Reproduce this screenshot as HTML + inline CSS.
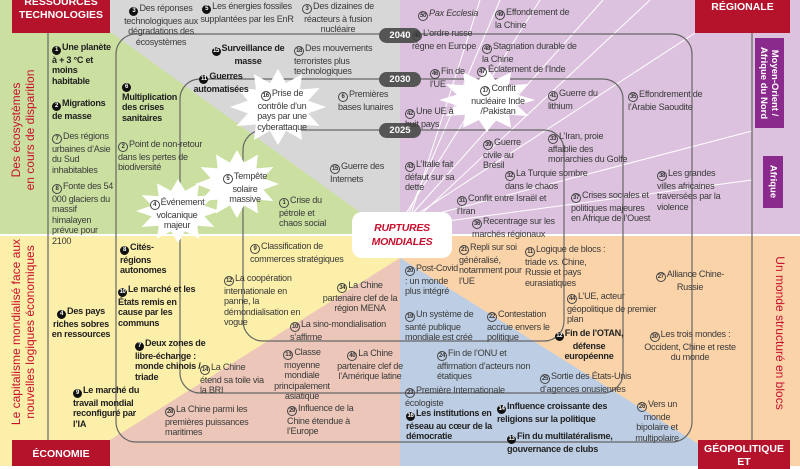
<!DOCTYPE html>
<html><head><meta charset="utf-8">
<style>
body{margin:0;width:800px;height:466px;overflow:hidden;position:relative;font-family:"Liberation Sans",sans-serif;background:#fff}
.t{position:absolute;font-size:9.1px;line-height:10.4px;color:#3a3a3a;letter-spacing:-0.25px}
.c{text-align:center}
.bd{font-weight:bold;color:#222}
.n,.b{display:inline-block;width:9px;height:9px;border-radius:50%;font-size:6px;line-height:9px;text-align:center;vertical-align:-1px;margin-right:1px;font-weight:bold;letter-spacing:-0.3px}
.n{border:0.8px solid #444;width:8px;height:8px;line-height:8px;color:#333}
.b{background:#111;color:#fff}
.red{position:absolute;background:#b5122b;color:#fff;font-weight:bold;font-size:10.5px;text-align:center;line-height:13px}
.vt{position:absolute;color:#c8102e;font-size:12px;line-height:14px;text-align:center;white-space:nowrap;transform:rotate(-90deg);transform-origin:center}
.pb{position:absolute;background:#8b2a8d;color:#fff;font-weight:bold;font-size:9.5px;line-height:11px}
.pill{position:absolute;left:379px;width:42px;height:15px;border-radius:8px;background:#555;color:#fff;font-weight:bold;font-size:9.5px;line-height:15px;text-align:center}
</style></head><body>
<svg width="800" height="466" style="position:absolute;left:0;top:0">
<defs><polygon id="star" points="1,0 .628,.168 .866,.5 .46,.46 .5,.866 .168,.628 0,1 -.168,.628 -.5,.866 -.46,.46 -.866,.5 -.628,.168 -1,0 -.628,-.168 -.866,-.5 -.46,-.46 -.5,-.866 -.168,-.628 0,-1 .168,-.628 .5,-.866 .46,-.46 .866,-.5 .628,-.168" fill="#fff"/></defs>
<rect x="0" y="0" width="400" height="234" fill="#cbe0a0"/>
<polygon points="110,0 400,0 400,234 390,234 112,33 110,33" fill="#d7d7d7"/>
<rect x="400" y="0" width="400" height="234" fill="#dcc2de"/>
<rect x="0" y="236" width="400" height="230" fill="#fcefa9"/>
<polygon points="400,258 400,466 110,466 110,440" fill="#ecc6b8"/>
<rect x="400" y="236" width="400" height="230" fill="#fbd3a9"/>
<polygon points="400,258 734,466 400,466" fill="#bdcee4"/>
<g stroke="#fff" stroke-width="1">
<line x1="405" y1="222" x2="500" y2="0"/><line x1="405" y1="222" x2="603" y2="0"/>
<line x1="405" y1="222" x2="695" y2="33"/><line x1="405" y1="222" x2="752" y2="131"/>
<line x1="440" y1="222" x2="752" y2="180"/><line x1="405" y1="215" x2="540" y2="0"/>
<line x1="410" y1="218" x2="480" y2="0"/><line x1="415" y1="220" x2="650" y2="0"/>
</g>
<g fill="none" stroke="#666" stroke-width="1.2">
<rect x="116" y="34" width="576" height="408" rx="20"/>
<rect x="180" y="79" width="443" height="314" rx="20"/>
<rect x="243" y="130" width="321" height="211" rx="20"/>
<line x1="48" y1="33" x2="48" y2="440"/><line x1="752" y1="33" x2="752" y2="440"/>
</g>
<use href="#star" transform="translate(278,107) scale(48,38)"/>
<use href="#star" transform="translate(237,184) scale(42,34)"/>
<use href="#star" transform="translate(178,211) scale(42,32)"/>
<use href="#star" transform="translate(487,100) scale(48,32)"/>
<rect x="352" y="212" width="100" height="46" rx="10" fill="#fff"/>
</svg>
<div class="pill" style="top:28px">2040</div>
<div class="pill" style="top:72px">2030</div>
<div class="pill" style="top:123px">2025</div>
<div class="t c bd" style="left:352px;top:221px;width:100px;color:#c8102e;font-style:italic;font-size:10.5px;line-height:14px">RUPTURES<br>MONDIALES</div>

<div class="red" style="left:12px;top:0;width:98px;height:33px"><div style="margin-top:-4px">RESSOURCES<br>TECHNOLOGIES</div></div>
<div class="red" style="left:695px;top:0;width:95px;height:33px;line-height:14px">RÉGIONALE</div>
<div class="red" style="left:12px;top:440px;width:98px;height:26px;line-height:28px">ÉCONOMIE</div>
<div class="red" style="left:698px;top:440px;width:92px;height:26px;padding-top:3px">GÉOPOLITIQUE<br>ET</div>
<div class="pb" style="left:755px;top:38px;width:29px;height:90px"><div style="position:absolute;left:-31px;top:34px;width:90px;transform:rotate(90deg);text-align:center">Moyen-Orient /<br>Afrique du Nord</div></div>
<div class="pb" style="left:763px;top:156px;width:20px;height:52px"><div style="position:absolute;left:-16px;top:20px;width:52px;transform:rotate(90deg);text-align:center">Afrique</div></div>
<div class="vt" style="left:-87px;top:116px;width:220px">Des écosystèmes<br>en cours de disparition</div>
<div class="vt" style="left:-112px;top:318px;width:270px">Le capitalisme mondialisé face aux<br>nouvelles logiques économiques</div>
<div class="vt" style="left:692px;top:326px;width:176px;transform:rotate(90deg)">Un monde structuré en blocs</div>

<!-- top-left -->
<div class="t c" style="left:118px;top:3px;width:86px"><span class="b">3</span>Des réponses technologiques aux dégradations des écosystèmes</div>
<div class="t c" style="left:198px;top:1px;width:98px"><span class="b">5</span>Les énergies fossiles supplantées par les EnR</div>
<div class="t c" style="left:297px;top:1px;width:82px"><span class="n">3</span>Des dizaines de réacteurs à fusion nucléaire</div>
<div class="t bd" style="left:52px;top:42px;width:64px"><span class="b">1</span>Une planète à + 3 °C et moins habitable</div>
<div class="t bd" style="left:52px;top:98px;width:62px"><span class="b">2</span>Migrations de masse</div>
<div class="t" style="left:52px;top:131px;width:62px"><span class="n">7</span>Des régions urbaines d’Asie du Sud inhabitables</div>
<div class="t" style="left:52px;top:181px;width:64px"><span class="n">8</span>Fonte des 54 000 glaciers du massif himalayen prévue pour 2100</div>
<div class="t bd" style="left:122px;top:79px;width:54px"><span class="b">6</span>Multiplication des crises sanitaires</div>
<div class="t" style="left:118px;top:139px;width:100px"><span class="n">2</span>Point de non-retour dans les pertes de biodiversité</div>
<div class="t c bd" style="left:208px;top:43px;width:80px"><span class="b">15</span>Surveillance de masse</div>
<div class="t" style="left:294px;top:43px;width:92px"><span class="n">18</span>Des mouvements terroristes plus technologiques</div>
<div class="t c bd" style="left:188px;top:71px;width:66px"><span class="b">11</span>Guerres automatisées</div>
<div class="t c" style="left:250px;top:88px;width:64px"><span class="n">16</span>Prise de contrôle d’un pays par une cyberattaque</div>
<div class="t" style="left:338px;top:89px;width:62px"><span class="n">6</span>Premières bases lunaires</div>
<div class="t" style="left:330px;top:161px;width:62px"><span class="n">15</span>Guerre des Internets</div>
<div class="t c" style="left:218px;top:171px;width:54px"><span class="n">5</span>Tempête solaire massive</div>
<div class="t c" style="left:143px;top:197px;width:68px"><span class="n">4</span>Événement volcanique majeur</div>
<div class="t" style="left:279px;top:195px;width:58px"><span class="n">1</span>Crise du pétrole et chaos social</div>

<!-- top-right -->
<div class="t" style="left:418px;top:8px;font-style:italic"><span class="n">50</span>Pax Ecclesia</div>
<div class="t" style="left:495px;top:7px;width:82px"><span class="n">49</span>Effondrement de la Chine</div>
<div class="t" style="left:412px;top:28px;width:70px"><span class="n">45</span>L’ordre russe règne en Europe</div>
<div class="t" style="left:482px;top:41px;width:98px"><span class="n">48</span>Stagnation durable de la Chine</div>
<div class="t" style="left:477px;top:64px;width:115px"><span class="n">47</span>Éclatement de l’Inde</div>
<div class="t" style="left:430px;top:66px;width:42px"><span class="n">46</span>Fin de l’UE</div>
<div class="t c" style="left:463px;top:83px;width:70px"><span class="n">17</span>Conflit nucléaire Inde /Pakistan</div>
<div class="t" style="left:548px;top:88px;width:52px"><span class="n">41</span>Guerre du lithium</div>
<div class="t" style="left:628px;top:89px;width:78px"><span class="n">35</span>Effondrement de l’Arabie Saoudite</div>
<div class="t" style="left:405px;top:106px;width:60px"><span class="n">42</span>Une UE à huit pays</div>
<div class="t" style="left:483px;top:137px;width:46px"><span class="n">39</span>Guerre civile au Brésil</div>
<div class="t" style="left:548px;top:131px;width:86px"><span class="n">33</span>L’Iran, proie affaiblie des monarchies du Golfe</div>
<div class="t" style="left:405px;top:159px;width:62px"><span class="n">43</span>L’Italie fait défaut sur sa dette</div>
<div class="t" style="left:505px;top:168px;width:98px"><span class="n">32</span>La Turquie sombre dans le chaos</div>
<div class="t" style="left:657px;top:168px;width:72px"><span class="n">38</span>Les grandes villes africaines traversées par la violence</div>
<div class="t" style="left:457px;top:193px;width:102px"><span class="n">31</span>Conflit entre Israël et l’Iran</div>
<div class="t" style="left:571px;top:190px;width:80px"><span class="n">37</span>Crises sociales et politiques majeures en Afrique de l’Ouest</div>
<div class="t" style="left:472px;top:216px;width:98px"><span class="n">36</span>Recentrage sur les marchés régionaux</div>

<!-- bottom-left -->
<div class="t bd" style="left:120px;top:242px;width:52px"><span class="b">8</span>Cités-régions autonomes</div>
<div class="t bd" style="left:118px;top:284px;width:84px"><span class="b">10</span>Le marché et les États remis en cause par les communs</div>
<div class="t c bd" style="left:50px;top:306px;width:62px"><span class="b">4</span>Des pays riches sobres en ressources</div>
<div class="t bd" style="left:135px;top:338px;width:84px"><span class="b">7</span>Deux zones de libre-échange : monde chinois / triade</div>
<div class="t bd" style="left:73px;top:385px;width:78px"><span class="b">9</span>Le marché du travail mondial reconfiguré par l’IA</div>
<div class="t" style="left:250px;top:241px;width:108px"><span class="n">9</span>Classification de commerces stratégiques</div>
<div class="t" style="left:224px;top:273px;width:82px"><span class="n">12</span>La coopération internationale en panne, la démondialisation en vogue</div>
<div class="t c" style="left:320px;top:280px;width:80px"><span class="n">34</span>La Chine partenaire clef de la région MENA</div>
<div class="t" style="left:290px;top:319px;width:115px"><span class="n">10</span>La sino-mondialisation s’affirme</div>
<div class="t c" style="left:266px;top:347px;width:72px"><span class="n">13</span>Classe moyenne mondiale principalement asiatique</div>
<div class="t c" style="left:337px;top:348px;width:66px"><span class="n">40</span>La Chine partenaire clef de l’Amérique latine</div>
<div class="t" style="left:200px;top:362px;width:68px"><span class="n">14</span>La Chine étend sa toile via la BRI</div>
<div class="t" style="left:165px;top:404px;width:98px"><span class="n">28</span>La Chine parmi les premières puissances maritimes</div>
<div class="t" style="left:287px;top:403px;width:78px"><span class="n">29</span>Influence de la Chine étendue à l’Europe</div>

<!-- bottom-right -->
<div class="t" style="left:459px;top:242px;width:64px"><span class="n">21</span>Repli sur soi généralisé, notamment pour l’UE</div>
<div class="t" style="left:525px;top:244px;width:82px"><span class="n">11</span>Logique de blocs : triade <i>vs.</i> Chine, Russie et pays eurasiatiques</div>
<div class="t" style="left:405px;top:263px;width:54px"><span class="n">20</span>Post-Covid : un monde plus intégré</div>
<div class="t c" style="left:648px;top:269px;width:84px"><span class="n">27</span>Alliance Chine-Russie</div>
<div class="t" style="left:567px;top:291px;width:92px"><span class="n">44</span>L’UE, acteur géopolitique de premier plan</div>
<div class="t" style="left:405px;top:309px;width:82px"><span class="n">19</span>Un système de santé publique mondiale est créé</div>
<div class="t" style="left:487px;top:309px;width:70px"><span class="n">22</span>Contestation accrue envers le politique</div>
<div class="t c bd" style="left:550px;top:328px;width:78px"><span class="b">12</span>Fin de l’OTAN, défense européenne</div>
<div class="t c" style="left:643px;top:329px;width:94px"><span class="n">30</span>Les trois mondes : Occident, Chine et reste du monde</div>
<div class="t" style="left:437px;top:348px;width:108px"><span class="n">24</span>Fin de l’ONU et affirmation d’acteurs non étatiques</div>
<div class="t" style="left:540px;top:371px;width:112px"><span class="n">25</span>Sortie des États-Unis d’agences onusiennes</div>
<div class="t" style="left:405px;top:385px;width:120px"><span class="n">23</span>Première Internationale écologiste</div>
<div class="t bd" style="left:497px;top:401px;width:128px"><span class="b">14</span>Influence croissante des religions sur la politique</div>
<div class="t bd" style="left:406px;top:408px;width:88px"><span class="b">16</span>Les institutions en réseau au cœur de la démocratie</div>
<div class="t c" style="left:628px;top:399px;width:58px"><span class="n">26</span>Vers un monde bipolaire et multipolaire</div>
<div class="t bd" style="left:507px;top:431px;width:128px"><span class="b">13</span>Fin du multilatéralisme, gouvernance de clubs</div>
</body></html>
